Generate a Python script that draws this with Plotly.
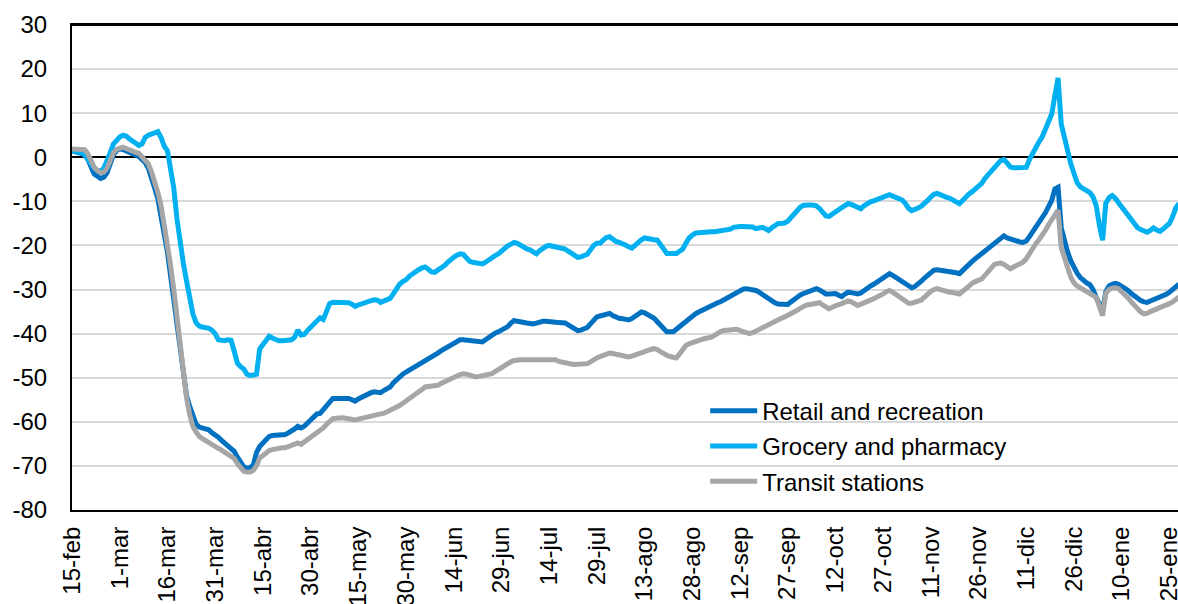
import pandas as pd
import plotly.graph_objects as go

start_date = "2020-02-15"

retail = [
    1.5, 1.3, 1.2, 1.0, 0.6, -0.5, -2.0, -3.8, -4.3, -4.8, -4.5, -3.5, -1.5, 0.5, 1.5,
    1.9, 1.8, 1.5, 1.2, 0.8, 0.5, 0.2, -0.5, -1.2, -2.5, -4.5, -7.0, -9.5, -13.0, -17.5,
    -21.5, -27.0, -33.0, -39.0, -45.0, -50.0, -54.0, -56.5, -59.0, -60.5, -61.2, -61.5, -61.5, -61.8, -62.5,
    -62.9, -63.5, -64.2, -64.8, -65.2, -65.8, -66.7, -68.0, -69.3, -70.2, -70.5, -70.4, -69.8, -67.0, -65.6,
    -64.8, -64.0, -63.3, -63.1, -63.0, -63.0, -62.9, -62.9, -62.5, -62.2, -61.6, -61.0, -61.4, -61.0, -60.2,
    -59.5, -58.8, -58.2, -58.1, -57.3, -56.3, -55.3, -54.7, -54.7, -54.7, -54.7, -54.7, -54.7, -55.0, -55.3,
    -54.8, -54.4, -54.0, -53.7, -53.4, -53.2, -53.3, -53.4, -52.9, -52.4, -52.1, -51.2, -50.4, -49.7, -49.2,
    -48.7, -48.3, -47.9, -47.4, -46.9, -46.4, -46.0, -45.7, -45.3, -45.0, -44.4, -43.9, -43.5, -43.0, -42.6,
    -42.1, -41.7, -41.4, -41.4, -41.5, -41.6, -41.7, -41.8, -41.9, -41.9, -41.4, -40.8, -40.3, -39.9, -39.6,
    -39.2, -38.8, -38.4, -37.6, -37.0, -37.2, -37.4, -37.6, -37.6, -37.7, -37.8, -37.6, -37.3, -37.2, -37.2,
    -37.2, -37.3, -37.4, -37.5, -37.5, -37.6, -38.0, -38.5, -39.0, -39.3, -39.2, -38.9, -38.6, -37.8, -36.8,
    -36.2, -36.0, -35.7, -35.5, -35.4, -35.9, -36.3, -36.5, -36.6, -36.8, -36.9, -36.6, -36.0, -35.5, -35.1,
    -35.3, -35.6, -35.9, -36.5, -37.3, -38.1, -39.0, -39.6, -39.6, -39.6, -39.0, -38.4, -37.8, -37.0, -36.5,
    -36.0, -35.5, -35.1, -34.7, -34.3, -33.9, -33.6, -33.3, -33.0, -32.7, -32.3, -31.8, -31.2, -30.8, -30.5,
    -30.2, -29.9, -29.8, -29.9, -30.0, -30.2, -30.6, -31.1, -31.7, -32.2, -32.6, -33.0, -33.3, -33.4, -33.4,
    -33.4, -32.8, -32.2, -31.6, -31.2, -30.9, -30.6, -30.3, -30.0, -29.8, -30.1, -30.6, -31.0, -31.0, -30.9,
    -30.9, -31.3, -31.6, -31.0, -30.6, -30.7, -30.9, -31.0, -30.8, -30.2, -29.6, -29.2, -28.8, -28.3, -28.0,
    -27.4, -26.8, -26.4, -26.8, -27.3, -27.9, -28.4, -28.9, -29.3, -29.6, -29.3, -28.8, -28.1, -27.4, -26.7,
    -26.1, -25.6, -25.5, -25.6, -25.7, -25.8, -25.8, -26.0, -26.2, -26.4, -25.6, -24.9, -24.3, -23.6, -23.0,
    -22.4, -21.9, -21.3, -20.7, -20.2, -19.6, -18.9, -18.1, -17.8, -18.3, -18.6, -18.8, -19.0, -19.2, -19.3,
    -19.0, -18.0, -17.0, -16.0, -15.0, -14.0, -12.6, -11.2, -9.8, -7.2, -6.8, -16.0, -19.0, -21.5, -23.5,
    -25.0, -26.3, -27.3, -28.0, -28.5, -28.9, -30.0, -31.8, -33.5, -34.8, -30.5, -29.2, -28.8, -28.6, -28.8,
    -29.2, -29.5, -30.2, -30.9, -31.5, -32.0, -32.5, -32.8, -32.9, -32.6, -32.3, -32.1, -31.9, -31.6, -31.1,
    -30.6, -30.0, -29.3, -28.8,
]

grocery = [
    1.5, 1.3, 1.0, 1.0, 0.5, -0.5, -1.5, -2.5, -3.0, -3.2, -2.5, -1.0, 1.0, 3.0, 4.0,
    4.6, 5.0, 4.8, 4.2, 3.6, 3.0, 2.7, 3.0, 4.5, 5.0, 5.2, 5.5, 5.8, 4.5, 2.5,
    1.5, -3.0, -7.0, -14.0, -20.0, -24.0, -28.0, -32.0, -35.5, -37.5, -38.3, -38.5, -38.6, -38.8, -39.2,
    -40.0, -41.4, -41.6, -41.6, -41.4, -41.5, -44.0, -46.7, -47.5, -48.0, -49.2, -49.5, -49.4, -49.2, -43.5,
    -42.5, -41.5, -40.6, -41.0, -41.4, -41.6, -41.6, -41.6, -41.6, -41.4, -40.8, -39.2, -40.3, -40.2, -39.3,
    -38.5, -37.8, -36.8, -36.4, -36.8, -35.0, -33.2, -32.9, -32.9, -32.9, -32.9, -32.9, -33.0, -33.3, -33.8,
    -33.5, -33.2, -33.0, -32.7, -32.5, -32.3, -32.4, -32.9, -32.6, -32.2, -32.0, -31.0, -29.8, -28.8, -28.2,
    -27.8, -27.0, -26.4, -26.0, -25.5, -25.1, -24.9, -25.4, -26.0, -26.1, -25.6, -25.3, -24.6, -23.9, -23.2,
    -22.7, -22.2, -21.9, -22.0, -22.8, -23.6, -23.8, -24.0, -24.1, -24.2, -23.8, -23.2, -22.7, -22.3, -21.9,
    -21.2, -20.6, -20.1, -19.7, -19.3, -19.5, -20.0, -20.4, -20.8, -21.0, -21.5, -21.9, -21.2, -20.6, -20.2,
    -20.0, -20.2, -20.4, -20.5, -20.7, -20.8, -21.3, -21.8, -22.3, -22.7, -22.6, -22.3, -22.0, -21.0, -20.0,
    -19.5, -19.5, -18.8, -18.2, -18.0, -18.7, -19.1, -19.3, -19.5, -19.9, -20.3, -20.6, -20.0, -19.3, -18.7,
    -18.3, -18.5, -18.6, -18.7, -18.8, -19.8, -21.0, -21.8, -21.8, -21.9, -21.8, -21.3, -20.8, -19.5, -18.3,
    -17.7, -17.2, -17.1, -17.0, -17.0, -17.0, -16.9, -16.9, -16.8, -16.8, -16.7, -16.6, -16.3, -15.9, -15.7,
    -15.7, -15.7, -15.7, -15.7, -15.8, -16.2, -16.0, -15.9, -16.2, -16.6, -16.0, -15.5, -15.0, -15.0, -14.9,
    -14.5, -13.6, -12.7, -12.0, -11.3, -10.9, -10.8, -10.8, -10.9, -11.0, -11.6, -12.5, -13.3, -13.4, -12.8,
    -12.2, -11.9, -11.4, -10.9, -10.5, -10.7, -11.1, -11.5, -11.7, -11.0, -10.4, -10.1, -9.9, -9.6, -9.5,
    -9.2, -8.6, -8.5, -8.8, -9.1, -9.4, -9.7, -10.5, -11.6, -12.1, -11.9, -11.5, -11.1, -10.6, -9.8,
    -9.0, -8.4, -8.2, -8.6, -9.0, -9.1, -9.3, -9.7, -10.1, -10.5, -9.8, -8.9, -8.3, -7.8, -7.2,
    -6.8, -5.9, -4.8, -3.9, -3.0, -2.2, -1.4, -0.7, -0.5, -1.6, -2.2, -2.4, -2.4, -2.4, -2.4,
    -2.3, -0.5, 1.0, 2.2, 3.5, 4.6, 6.2, 8.0, 9.8, 14.0, 18.0, 7.5, 5.0, 1.5, -1.5,
    -4.0, -5.8, -6.7, -7.2, -7.6, -8.0, -9.0, -11.0, -15.5, -18.8, -10.5, -9.2, -8.7, -9.3, -10.3,
    -11.2, -12.2, -13.2, -14.2, -15.2, -16.0, -16.4, -16.8, -17.0, -16.6, -16.0, -16.5, -16.8, -16.3, -15.6,
    -15.0, -13.5, -11.5, -10.5,
]

transit = [
    1.9, 1.9, 1.9, 1.9, 1.7, 0.8, -0.8, -2.3, -3.0, -3.5, -3.4, -2.5, -0.8, 1.0, 1.8,
    2.2, 2.3, 2.0, 1.6, 1.3, 1.1, 0.9, 0.2, -0.6, -1.5, -3.3, -5.5, -8.0, -11.0, -15.0,
    -19.5, -24.5, -30.0, -36.0, -43.0, -49.0, -54.5, -58.3, -61.0, -62.3, -63.3, -63.8, -64.3, -64.8, -65.2,
    -65.6, -66.0, -66.4, -66.9, -67.3, -67.7, -68.3, -69.5, -70.6, -71.2, -71.4, -71.4, -71.0, -70.0, -68.2,
    -67.6, -67.0, -66.5, -66.3, -66.1, -66.0, -65.9, -65.9, -65.6, -65.3, -65.0, -64.8, -65.1, -64.6, -64.0,
    -63.5, -63.0, -62.4, -61.9, -61.4, -60.6, -59.8, -59.3, -59.2, -59.1, -59.1, -59.2, -59.3, -59.5, -59.6,
    -59.4, -59.2, -59.0, -58.8, -58.6, -58.4, -58.3, -58.2, -58.1, -57.8, -57.3, -57.0, -56.7, -56.3, -55.8,
    -55.3, -54.8, -54.3, -54.0, -53.4, -52.7, -52.1, -52.0, -51.9, -51.8, -51.7, -51.3, -50.9, -50.6, -50.2,
    -49.9, -49.6, -49.3, -49.1, -49.2, -49.4, -49.6, -49.8, -49.7, -49.5, -49.3, -49.2, -49.1, -48.6, -48.1,
    -47.8, -47.4, -46.9, -46.4, -46.1, -45.9, -45.9, -45.9, -45.9, -45.9, -45.9, -45.9, -45.9, -45.9, -45.9,
    -45.9, -45.9, -45.9, -46.3, -46.5, -46.5, -46.7, -46.9, -47.0, -47.0, -46.9, -46.9, -46.8, -46.4, -45.8,
    -45.5, -45.2, -44.9, -44.6, -44.4, -44.5, -44.7, -44.9, -45.1, -45.2, -45.3, -45.1, -44.8, -44.5, -44.3,
    -44.2, -43.9, -43.6, -43.4, -43.6, -44.1, -44.6, -44.9, -45.2, -45.5, -45.5, -44.6, -43.6, -42.7, -42.3,
    -42.0, -41.7, -41.5, -41.3, -41.1, -41.0, -40.8, -40.4, -39.9, -39.5, -39.3, -39.2, -39.1, -38.9, -39.0,
    -39.3, -39.6, -39.9, -40.0, -39.8, -39.4, -39.1, -38.9, -38.5, -38.0, -37.6, -37.2, -36.9, -36.5, -36.2,
    -35.9, -35.6, -35.2, -34.7, -34.2, -33.8, -33.5, -33.4, -33.2, -33.0, -33.0, -33.5, -34.0, -34.4, -34.0,
    -33.6, -33.4, -33.2, -32.9, -32.6, -32.8, -33.2, -33.6, -33.3, -32.9, -32.6, -32.4, -32.1, -31.8, -31.5,
    -31.0, -30.5, -30.2, -30.6, -31.1, -31.6, -32.1, -32.6, -33.1, -33.1, -32.9, -32.6, -32.4, -31.7, -31.0,
    -30.4, -30.0, -29.8, -30.0, -30.3, -30.5, -30.6, -30.7, -30.9, -31.0, -30.4, -29.7, -29.1, -28.6, -28.2,
    -27.9, -27.6, -26.8, -25.9, -25.0, -24.3, -24.1, -24.0, -24.3, -24.9, -25.3, -24.9, -24.5, -24.1, -23.8,
    -23.0, -21.7, -20.4, -19.6, -18.7, -17.8, -16.6, -15.3, -14.2, -12.6, -12.0, -20.5, -23.3, -25.0, -27.2,
    -28.5, -29.2, -29.6, -29.9, -30.2, -30.8, -31.3, -31.8, -34.0, -35.9, -30.8, -30.0, -29.7, -29.6, -29.8,
    -30.4, -31.2, -31.9, -32.8, -33.6, -34.4, -35.1, -35.5, -35.4, -35.0, -34.7, -34.6, -34.4, -34.1, -33.7,
    -33.2, -32.8, -32.2, -31.7,
]

tick_labels = [
    "15-feb", "1-mar", "16-mar", "31-mar", "15-abr", "30-abr", "15-may", "30-may",
    "14-jun", "29-jun", "14-jul", "29-jul", "13-ago", "28-ago", "12-sep", "27-sep",
    "12-oct", "27-oct", "11-nov", "26-nov", "11-dic", "26-dic", "10-ene", "25-ene",
]
tick_step_days = 15

y_ticks = [30, 20, 10, 0, -10, -20, -30, -40, -50, -60, -70, -80]
y_tick_labels = ["30", "20", "10", "0", "-10", "-20", "-30", "-40", "-50", "-60", "-70", "-80"]

series_names = ["Retail and recreation", "Grocery and pharmacy", "Transit stations"]
series_colors = ["#0070C0", "#00B0F0", "#A6A6A6"]

t0 = pd.Timestamp(start_date)
n = min(len(retail), len(grocery), len(transit))
dates = pd.date_range(t0, periods=n, freq="D")
tickvals = [t0 + pd.Timedelta(days=tick_step_days * i) for i in range(len(tick_labels))]

FONT = "Liberation Sans, Arial, sans-serif"
FS = 24

fig = go.Figure()
for i, (name, vals, col) in enumerate(zip(series_names, [retail, grocery, transit], series_colors)):
    fig.add_trace(go.Scatter(
        x=dates, y=vals[:n], mode="lines", name=name, legendgroup=f"g{i}",
        line=dict(color=col, width=5),
    ))

x_end = t0 + pd.Timedelta(days=347.7)

fig.update_layout(
    width=1178, height=604,
    margin=dict(l=72, r=0, t=25, b=94, autoexpand=False),
    paper_bgcolor="white", plot_bgcolor="white",
    font=dict(family=FONT, size=FS, color="#000000"),
    showlegend=True,
    legend=dict(
        x=0.5725, y=0.25, xanchor="left", yanchor="top",
        bgcolor="rgba(0,0,0,0)", borderwidth=0,
        font=dict(family=FONT, size=FS, color="#000000"),
        tracegroupgap=1, itemwidth=47,
    ),
    xaxis=dict(
        type="date", range=[t0, x_end],
        tickmode="array", tickvals=tickvals, ticktext=tick_labels,
        tickangle=-90, ticks="", showgrid=False,
        showline=True, linecolor="#000000", linewidth=2, mirror=True,
        zeroline=False, ticklabelstandoff=5, ticklabeloverflow="allow",
        tickfont=dict(family=FONT, size=FS, color="#000000"),
        automargin=False,
    ),
    yaxis=dict(
        range=[-80, 30], tickmode="array", tickvals=y_ticks, ticktext=y_tick_labels,
        showgrid=True, gridcolor="#D9D9D9", gridwidth=2,
        zeroline=True, zerolinecolor="#000000", zerolinewidth=2,
        showline=True, linecolor="#000000", linewidth=2,
        ticks="", ticklabelstandoff=18, ticklabeloverflow="allow",
        tickfont=dict(family=FONT, size=FS, color="#000000"),
        automargin=False,
    ),
    shapes=[dict(
        type="line", xref="paper", yref="paper", x0=0, x1=1, y0=1, y1=1,
        line=dict(color="#000000", width=2), layer="above",
    )],
)

fig.write_html(
    "out.html",
    config={"displayModeBar": False},
    post_script="document.body.style.margin='0';document.body.style.overflow='hidden';",
)
